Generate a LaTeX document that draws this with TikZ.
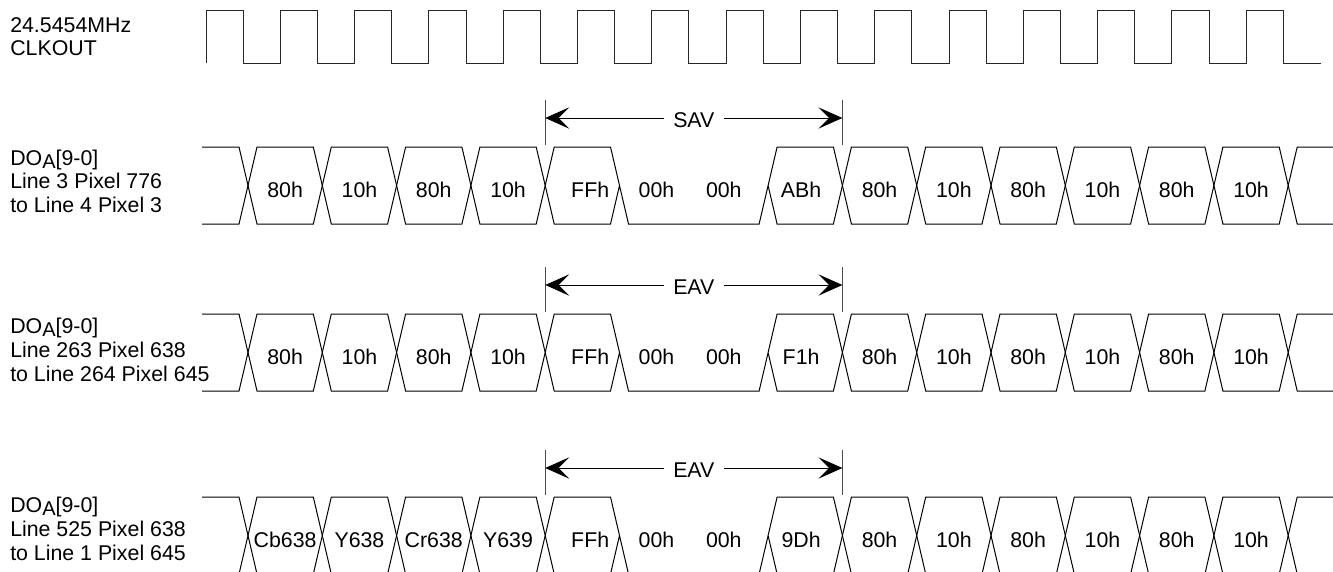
\documentclass[tikz,border=0pt]{standalone}
\usepackage{fontspec}
\setmainfont{Liberation Sans}
\usetikzlibrary{arrows.meta}
\tikzset{%
    sig/.style={line width = 0.75pt},
    clk/.style={line width = 0.75pt, black!85},
    tck/.style={line width = 0.75pt, black!70},
    dar/.style={line width = 0.75pt, {Stealth[length=18pt,width=16pt,inset=8pt]}-{Stealth[length=18pt,width=16pt,inset=8pt]}},
    blo/.style={rectangle, fill=white, inner xsep=7pt, inner ysep=1pt, yshift=-1.5pt},
    val/.style={anchor=base, inner sep=0pt},
    lab/.style={anchor=base west, inner sep=0pt},
}
\newcommand{\cx}[1]{248+74.3*#1}
\newcommand{\subA}{\raisebox{-2.6pt}{\fontsize{15}{15}\selectfont A}}
% #1 top, #2 first four words, #3 sync word, #4 name, #5 arrow text
\newcommand{\busrow}[5]{%
    \draw [sig] (202,#1) -- (239,#1) -- (248,#1+38.5) -- (239,#1+77) -- (202,#1+77);
    \foreach \k in {0,1,2,3,8,9,10,11,12,13}
        \draw [sig] ({\cx{\k}},#1+38.5) -- ++(9,-38.5) -- ({\cx{\k}+74.3-9},#1) -- ++(9,38.5)
            -- ++(-9,38.5) -- ({\cx{\k}+9},#1+77) -- cycle;
    \draw [sig] ({\cx{4}},#1+38.5) -- ({\cx{4}+9},#1) -- ({\cx{5}-9},#1) -- ({\cx{5}+9},#1+77)
        -- ({\cx{7}-9},#1+77) -- ({\cx{7}+9},#1) -- ({\cx{8}-9},#1) -- ({\cx{8}},#1+38.5)
        -- ({\cx{8}-9},#1+77) -- ({\cx{7}+9},#1+77) -- ({\cx{7}},#1+38.5)
        ({\cx{5}},#1+38.5) -- ({\cx{5}-9},#1+77) -- ({\cx{4}+9},#1+77) -- ({\cx{4}},#1+38.5);
    \draw [sig] (1333,#1) -- ({\cx{14}+9},#1) -- ({\cx{14}},#1+38.5) -- ({\cx{14}+9},#1+77) -- (1333,#1+77);
    \foreach \t [count=\k from 0] in {#2}
        \node[val] at ({\cx{\k}+37.15},#1+50) {\t};
    \foreach \t [count=\k from 8] in {80h,10h,80h,10h,80h,10h}
        \node[val] at ({\cx{\k}+37.15},#1+50) {\t};
    \node[val] (#4ff) at ({\cx{4}+45},#1+50) {FFh};
    \node[val] (#4za) at ({\cx{5}+37},#1+50) {00h};
    \node[val] (#4zb) at ({\cx{6}+30},#1+50) {00h};
    \node[val] (#4sw) at ({\cx{7}+33},#1+50) {#3};
    \coordinate (#4l) at ({\cx{4}},#1-29);
    \coordinate (#4r) at ({\cx{8}},#1-29);
    \draw [tck] (#4l) ++(0,-18) -- ++(0,44.5);
    \draw [tck] (#4r) ++(0,-18) -- ++(0,44.5);
    \draw [dar] (#4l) -- node[blo]{#5} (#4r);
}

\begin{document}
\begin{tikzpicture}[x=0.75pt, y=-0.75pt, font=\fontsize{16}{19}\selectfont]
    \clip (0,0) rectangle (1333,571);
    % clock
    \draw [clk] (206,63) \foreach \k in {0,...,14} { -- ++(0,-53) -- ++(37.15,0) -- ++(0,53) -- ++(37.15,0) };
    \node[lab] (fclk) at (10,32) {24.5454MHz};
    \node[lab] (nclk) at (10,55) {CLKOUT};
    % data buses
    \busrow{147}{80h,10h,80h,10h}{ABh}{sav}{SAV}
    \busrow{314}{80h,10h,80h,10h}{F1h}{eava}{EAV}
    \busrow{497}{Cb638,Y638,Cr638,Y639}{9Dh}{eavb}{EAV}
    \node[lab] (doa) at (10,165) {DO\subA[9-0]};
    \node[lab] (lna) at (10,188.5) {Line 3 Pixel 776};
    \node[lab] (tla) at (10,212) {to Line 4 Pixel 3};
    \node[lab] (dob) at (10,333) {DO\subA[9-0]};
    \node[lab] (lnb) at (10,357) {Line 263 Pixel 638};
    \node[lab] (tlb) at (10,381) {to Line 264 Pixel 645};
    \node[lab] (doc) at (10,512) {DO\subA[9-0]};
    \node[lab] (lnc) at (10,536) {Line 525 Pixel 638};
    \node[lab] (tlc) at (10,560) {to Line 1 Pixel 645};
\end{tikzpicture}
\end{document}
